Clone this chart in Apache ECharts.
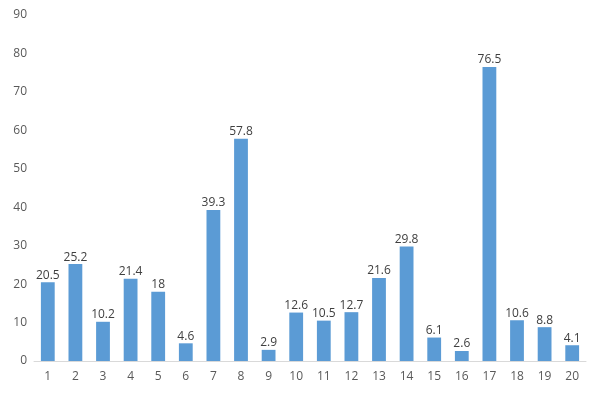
<!DOCTYPE html>
<html>
<head>
<meta charset="utf-8">
<script src="https://cdn.jsdelivr.net/npm/echarts@6/dist/echarts.min.js"></script>
<style>
  html, body { margin: 0; padding: 0; background: #fff; }
  #chart { width: 600px; height: 397px; }
</style>
</head>
<body>
<div id="chart"></div>
<script>
const categories = ['1', '2', '3', '4', '5', '6', '7', '8', '9', '10',
  '11', '12', '13', '14', '15', '16', '17', '18', '19', '20'];
const values = [20.5, 25.2, 10.2, 21.4, 18, 4.6, 39.3, 57.8, 2.9, 12.6,
  10.5, 12.7, 21.6, 29.8, 6.1, 2.6, 76.5, 10.6, 8.8, 4.1];

const chart = echarts.init(document.getElementById('chart'));
chart.setOption({
  animation: false,
  textStyle: { fontFamily: 'Open Sans, DejaVu Sans, sans-serif' },
  grid: { left: 34, right: 14, top: 15, bottom: 36, containLabel: false },
  xAxis: {
    type: 'category',
    data: categories,
    axisLine: { lineStyle: { color: '#d9d9d9' } },
    axisTick: { show: false },
    axisLabel: { color: '#595959', fontSize: 12, margin: 10 },
  },
  yAxis: {
    type: 'value',
    min: 0,
    max: 90,
    interval: 10,
    axisLine: { show: false },
    axisTick: { show: false },
    splitLine: { show: false },
    axisLabel: { color: '#595959', fontSize: 12, margin: 7 },
  },
  series: [{
    type: 'bar',
    data: values,
    barWidth: '50%',
    itemStyle: { color: '#5b9bd5' },
    label: {
      show: true,
      position: 'top',
      distance: 1,
      color: '#404040',
      fontSize: 12,
    },
  }],
});
</script>
</body>
</html>
